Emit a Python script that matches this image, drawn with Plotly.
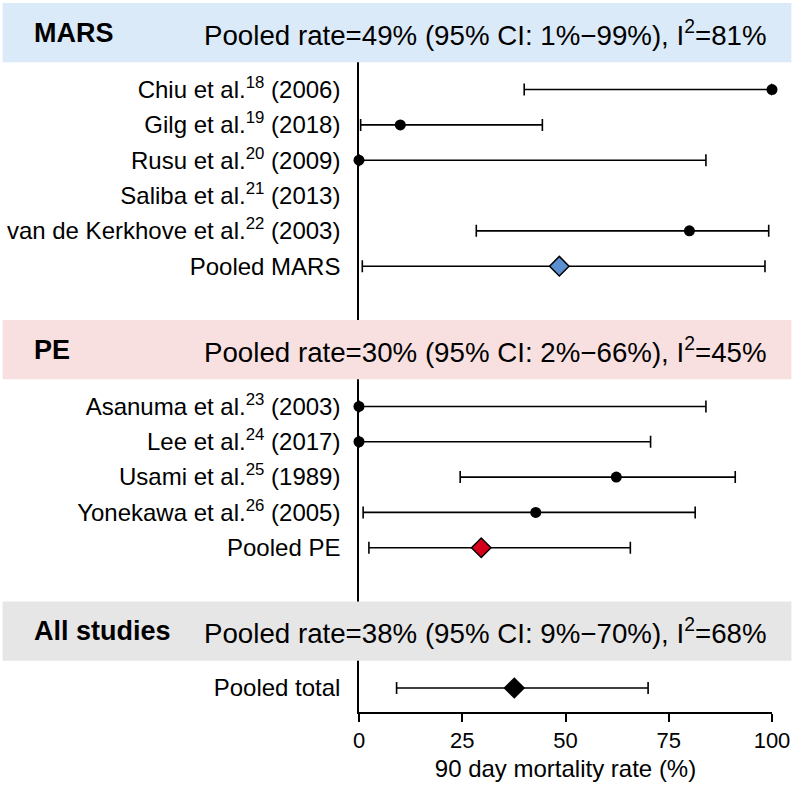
import plotly.graph_objects as go

# ---------------- data ----------------
groups = ["MARS", "PE", "All studies"]
group_rate = [49, 30, 38]
group_ci_lo = [1, 2, 9]
group_ci_hi = [99, 66, 70]
group_i2 = [81, 45, 68]

mars_labels = ["Chiu et al.<sup>18</sup> (2006)", "Gilg et al.<sup>19</sup> (2018)",
               "Rusu et al.<sup>20</sup> (2009)", "Saliba et al.<sup>21</sup> (2013)",
               "van de Kerkhove et al.<sup>22</sup> (2003)", "Pooled MARS"]
mars_est = [100, 10, 0, None, 80, 48.5]
mars_lo = [40, 0.4, 0, None, 28.4, 0.8]
mars_hi = [100, 44.4, 84, None, 99.2, 98.3]

pe_labels = ["Asanuma et al.<sup>23</sup> (2003)", "Lee et al.<sup>24</sup> (2017)",
             "Usami et al.<sup>25</sup> (1989)", "Yonekawa et al.<sup>26</sup> (2005)",
             "Pooled PE"]
pe_est = [0, 0, 62.3, 42.8, 29.6]
pe_lo = [0, 0, 24.5, 1.0, 2.4]
pe_hi = [84.0, 70.6, 91.1, 81.4, 65.7]

all_labels = ["Pooled total"]
all_est = [37.6]
all_lo = [9.1]
all_hi = [70.0]

x_ticks = [0, 25, 50, 75, 100]
x_title = "90 day mortality rate (%)"

# ---------------- styling ----------------
band_colors = ["#dbeaf8", "#f8e0e1", "#e6e6e6"]
diamond_colors = ["#5b8fcf", "#d6001c", "#000000"]
FONT = "Liberation Sans, Arial, Helvetica, sans-serif"

W, H = 793, 787
L, R, T, B = 358.5, 21.4, 3, 75
plot_w = W - L - R

BAND_H = 1.68
ROW_OFF = 0.77
GAP = 1.52
BOTTOM_PAD = 0.68

sections = [
    (mars_labels, mars_est, mars_lo, mars_hi),
    (pe_labels, pe_est, pe_lo, pe_hi),
    (all_labels, all_est, all_lo, all_hi),
]

fig = go.Figure()
shapes = []
annotations = []
tickvals, ticktext = [], []

cursor = 0.0
for gi, (labels, est, lo, hi) in enumerate(sections):
    band_top = cursor
    band_bot = cursor + BAND_H
    shapes.append(dict(type="rect", xref="paper", yref="y",
                       x0=(2 - L) / plot_w, x1=(791 - L) / plot_w,
                       y0=band_top, y1=band_bot, fillcolor=band_colors[gi],
                       line=dict(width=0), layer="above"))
    mid = (band_top + band_bot) / 2
    annotations.append(dict(xref="paper", yref="y", x=(31 - L) / plot_w, y=mid,
                            text="<b>%s</b>" % groups[gi], showarrow=False,
                            xanchor="left", yanchor="middle",
                            font=dict(family=FONT, size=27, color="black")))
    annotations.append(dict(xref="paper", yref="y", x=(201 - L) / plot_w, y=mid,
                            text="Pooled rate=%d%% (95%% CI: %d%%\u2212%d%%), I<sup>2</sup>=%d%%"
                                 % (group_rate[gi], group_ci_lo[gi], group_ci_hi[gi], group_i2[gi]),
                            showarrow=False, xanchor="left", yanchor="middle",
                            font=dict(family=FONT, size=27.7, color="black")))
    ys = [band_bot + ROW_OFF + i for i in range(len(labels))]
    tickvals += ys
    ticktext += labels
    n = len(labels)
    if n > 1:
        se = est[:-1]; sl = lo[:-1]; sh = hi[:-1]
        fig.add_trace(go.Scatter(
            x=se, y=ys[:-1], mode="markers", cliponaxis=False, showlegend=False,
            marker=dict(symbol="circle", size=11, color="black"),
            error_x=dict(type="data", symmetric=False,
                         array=[(h - e) if e is not None else None for e, h in zip(se, sh)],
                         arrayminus=[(e - l) if e is not None else None for e, l in zip(se, sl)],
                         color="black", thickness=1.6, width=6)))
    fig.add_trace(go.Scatter(
        x=[est[-1]], y=[ys[-1]], mode="markers", cliponaxis=False, showlegend=False,
        marker=dict(symbol="diamond", size=15, color=diamond_colors[gi],
                    line=dict(color="black", width=1.5)),
        error_x=dict(type="data", symmetric=False, array=[hi[-1] - est[-1]],
                     arrayminus=[est[-1] - lo[-1]], color="black", thickness=1.6, width=6)))
    cursor = ys[-1] + (GAP if gi < len(sections) - 1 else BOTTOM_PAD)

y_max = cursor

fig.update_layout(
    width=W, height=H, autosize=False,
    margin=dict(l=L, r=R, t=T, b=B, pad=0),
    paper_bgcolor="white", plot_bgcolor="white",
    font=dict(family=FONT, color="black"),
    shapes=shapes, annotations=annotations,
    xaxis=dict(range=[0, 100], tickvals=x_ticks, ticks="outside", ticklen=8,
               tickwidth=2, tickcolor="black", showline=True, linecolor="black",
               linewidth=2, showgrid=False, zeroline=False,
               ticklabeloverflow="allow",
               tickfont=dict(family=FONT, size=22, color="black"),
               title=dict(text=x_title, font=dict(family=FONT, size=24, color="black"),
                          standoff=8)),
    yaxis=dict(range=[y_max, 0], tickvals=tickvals, ticktext=ticktext,
               ticks="outside", ticklen=12, tickcolor="rgba(0,0,0,0)",
               showline=True, linecolor="black", linewidth=1.5,
               showgrid=False, zeroline=False,
               tickfont=dict(family=FONT, size=24, color="black")),
)

fig.write_html("out.html", config={"displayModeBar": False},
               post_script="document.body.style.margin='0';document.body.style.overflow='hidden';")
